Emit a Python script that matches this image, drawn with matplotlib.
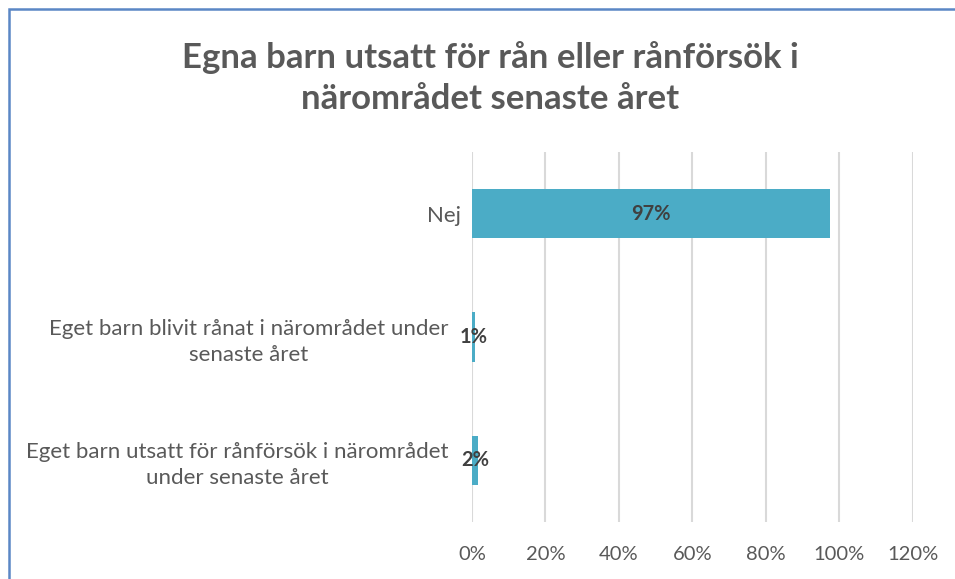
import matplotlib
matplotlib.use("Agg")
import matplotlib.pyplot as plt
from matplotlib.patches import Rectangle

categories = [
    "Nej",
    "Eget barn blivit rånat i närområdet under\nsenaste året",
    "Eget barn utsatt för rånförsök i närområdet\nunder senaste året",
]
values = [97.4, 0.9, 1.6]
value_labels = ["97%", "1%", "2%"]
xticks = [0, 20, 40, 60, 80, 100, 120]
title = "Egna barn utsatt för rån eller rånförsök i\nnärområdet senaste året"

BAR = "#4BACC6"
TXT = "#595959"
plt.rcParams["font.family"] = ["Lato", "DejaVu Sans"]

W, H = 955, 579
fig = plt.figure(figsize=(W / 100, H / 100), dpi=100)
ax = fig.add_axes([472 / W, 1 - 522 / H, 440.5 / W, 370 / H])

ys = list(range(len(categories)))
ax.barh(ys, values, height=0.4, color=BAR, zorder=3)
for y, v, lab in zip(ys, values, value_labels):
    ax.text(v / 2, y, lab, ha="center", va="center", fontsize=14.5,
            fontweight="bold", color="#404040", zorder=4)

ax.set_ylim(len(categories) - 0.5, -0.5)
ax.set_xlim(0, 120)
ax.set_xticks(xticks)
ax.set_xticklabels([f"{t}%" for t in xticks], color=TXT, fontsize=14.5)
ax.set_yticks(ys)
ax.set_yticklabels(categories, color=TXT, fontsize=16, ha="right",
                   multialignment="center", linespacing=1.35)
ax.tick_params(length=0, pad=8)
ax.tick_params(axis="x", pad=17)
# wrapped labels sit a little further from the axis than "Nej"
for t in ax.yaxis.get_major_ticks()[1:]:
    t.set_pad(17)
ax.grid(axis="x", color="#D9D9D9", linewidth=1.5, zorder=0)
for s in ax.spines.values():
    s.set_visible(False)

fig.text(490 / W, 1 - 78 / H, title, ha="center", va="center", fontsize=25,
         fontweight="bold", color=TXT, linespacing=1.38)

fig.patches.append(Rectangle((9 / W, -0.1), 1.2, 1 - 9 / H + 0.1,
                             transform=fig.transFigure, fill=False,
                             edgecolor="#5B87C5", linewidth=1.8))

fig.savefig("out.png", dpi=100)
